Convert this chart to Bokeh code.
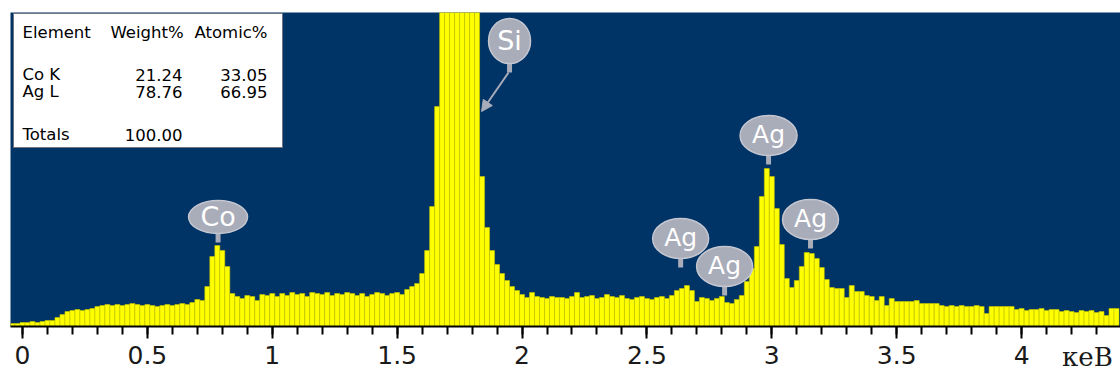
import numpy as np
from bokeh.plotting import figure
from bokeh.models import Range1d, FixedTicker, ColumnDataSource, Arrow, NormalHead
from bokeh.core.properties import value
from bokeh.embed import file_html
from bokeh.resources import INLINE

# ---------------- data ----------------
e_start = -0.04    # keV, centre of first channel
bin_width = 0.02   # keV per channel
counts = [
    3, 3, 4, 4, 5, 4,
    5, 6, 6,
    9, 12, 15,
    16, 17, 16, 17, 18,
    20, 21, 22, 21, 22, 21, 22, 23, 22, 21, 22, 21, 20, 21, 22, 21, 22, 23, 22,
    24, 27, 26,
    40, 70, 81, 76, 60, 33,
    30, 28, 31, 30, 26, 32, 31, 33, 30,
    33, 31, 34, 32, 33, 30, 34, 33, 32, 34, 31, 33, 32, 34, 33, 31, 33, 30, 32, 34, 33, 31, 33, 34, 32,
    37, 40, 43, 53, 76, 120, 220,
    340, 450, 560, 600, 580, 480, 380, 330,
    150, 99, 76, 62, 53, 46, 40, 36, 32, 29, 34, 30, 29, 28, 30, 29,
    29, 28, 30, 34,
    29, 30, 31, 28, 29, 32, 30, 29, 31, 28, 27, 29, 30, 28, 27, 29, 30, 28, 31,
    36, 38, 41, 36,
    25, 29, 28, 26, 28, 30, 24, 23, 27,
    31, 45, 58, 80, 130, 158, 150, 118, 82, 48, 39, 46, 60, 74, 73, 68, 59, 47, 39, 38,
    38, 29, 41, 35, 35, 31, 30, 26, 30, 21, 28,
    25, 25, 25, 25, 26, 23, 23, 23, 23,
    21, 20, 21, 20, 21, 20, 20, 21, 20,
    13, 20, 20, 20, 20, 20,
    17, 18, 16, 17, 17, 18, 16, 17, 17,
    15, 16, 15, 14, 16, 15, 16, 14, 15,
    11, 18, 18,
]
energy = e_start + bin_width * np.arange(len(counts))

tick_values = [0, 0.5, 1, 1.5, 2, 2.5, 3, 3.5, 4]
tick_labels = ["0", "0.5", "1", "1.5", "2", "2.5", "3", "3.5", "4"]
x_unit = "кеВ"

table_header = ["Element", "Weight%", "Atomic%"]
table_elements = ["Co K", "Ag L"]
table_weight = ["21.24", "78.76"]
table_atomic = ["33.05", "66.95"]
total_label = "Totals"
total_weight = "100.00"

peak_names = ["Co", "Si", "Ag", "Ag", "Ag", "Ag"]
peak_label_energy = [0.783, 1.950, 2.635, 2.811, 2.987, 3.155]

# ---------------- layout / style ----------------
label_y = [109.5, 285.5, 88, 60, 191, 107]
ell_w = [59, 42, 56, 56, 57, 56]
ell_h = [33, 45, 40, 40, 40, 40]
label_font = ["27px", "27px", "25px", "25px", "25px", "25px"]
stem_len = 9
unit_pad = "\u00a0" * 8   # keeps the end-anchored caption inside the picture

NAVY = "#003366"
BUBBLE = "#a9acb9"

p = figure(frame_width=1110, frame_height=314,
           x_range=Range1d(-0.048, 4.396), y_range=Range1d(0, 314),
           output_backend="svg", toolbar_location=None,
           y_axis_location=None,
           min_border_left=10, min_border_right=0, min_border_top=12, min_border_bottom=52)
p.background_fill_color = NAVY
p.border_fill_color = "white"
p.outline_line_color = None
p.grid.visible = False

src = ColumnDataSource(dict(energy=energy, counts=counts))
p.vbar(x="energy", top="counts", bottom=0, width=bin_width, source=src,
       fill_color="#ffff00", line_color="#c2c200", line_width=0.6)

# x axis
ax = p.xaxis[0]
ax.ticker = FixedTicker(ticks=tick_values,
                        minor_ticks=[round(0.1 * i, 1) for i in range(0, 44)])
ax.major_label_overrides = {v: l for v, l in zip(tick_values, tick_labels)}
ax.axis_line_color = "black"
ax.axis_line_width = 2
ax.major_tick_line_color = "black"
ax.major_tick_line_width = 2
ax.major_tick_in = 0
ax.major_tick_out = 12
ax.minor_tick_line_color = "black"
ax.minor_tick_line_width = 2
ax.minor_tick_in = 0
ax.minor_tick_out = 8
ax.major_label_text_font = "DejaVu Sans"
ax.major_label_text_font_size = "25px"
ax.major_label_text_color = "#1a1a1a"
ax.major_label_standoff = 7
ax.axis_label = x_unit + unit_pad
ax.axis_label_text_font = "DejaVu Serif"
ax.axis_label_text_font_style = "normal"
ax.axis_label_text_font_size = "26px"
ax.axis_label_text_color = "#1a1a1a"
ax.axis_label_standoff = -25
ax.axis_label_align = "end"

# results table
p.quad(left=[-0.036], right=[1.041], bottom=[179], top=[313],
       fill_color="white", line_color="#6f7480", line_width=1)
tfont = value("DejaVu Sans")
tsize = value("16.5px")
p.text(x=[0.0], y=[294], text=[table_header[0]], text_align="left", text_baseline="middle",
       text_font=tfont, text_font_size=tsize, text_color="black")
p.text(x=[0.645, 0.981], y=[294, 294], text=table_header[1:], text_align="right",
       text_baseline="middle", text_font=tfont, text_font_size=tsize, text_color="black")
row_y = [252, 235]
p.text(x=[0.0] * len(table_elements), y=row_y, text=table_elements, text_align="left",
       text_baseline="middle", text_font=tfont, text_font_size=tsize, text_color="black")
p.text(x=[0.641] * len(table_weight), y=row_y, text=table_weight, text_align="right",
       text_baseline="middle", text_font=tfont, text_font_size=tsize, text_color="black")
p.text(x=[0.981] * len(table_atomic), y=row_y, text=table_atomic, text_align="right",
       text_baseline="middle", text_font=tfont, text_font_size=tsize, text_color="black")
p.text(x=[0.0], y=[192], text=[total_label], text_align="left", text_baseline="middle",
       text_font=tfont, text_font_size=tsize, text_color="black")
p.text(x=[0.641], y=[192], text=[total_weight], text_align="right", text_baseline="middle",
       text_font=tfont, text_font_size=tsize, text_color="black")

# peak labels
stem_top = [y - h / 2 for y, h in zip(label_y, ell_h)]
stem_bot = [t - stem_len for t in stem_top]
p.segment(x0=peak_label_energy, y0=stem_top, x1=peak_label_energy, y1=stem_bot,
          line_color=BUBBLE, line_width=5)
p.ellipse(x=peak_label_energy, y=label_y, width=ell_w, height=ell_h,
          width_units="screen", height_units="screen",
          fill_color=BUBBLE, line_color="#c4c6d0", line_width=1.5)
lab = ColumnDataSource(dict(x=peak_label_energy, y=[y + 1 for y in label_y],
                            t=peak_names, fs=label_font))
p.text(x="x", y="y", text="t", source=lab, text_align="center", text_baseline="middle",
       text_font=value("DejaVu Sans"), text_font_size="fs", text_color="white")

# Si arrow
si = 1
p.add_layout(Arrow(x_start=peak_label_energy[si] - 0.004, y_start=stem_bot[si],
                   x_end=1.838, y_end=215,
                   line_color=BUBBLE, line_width=2,
                   end=NormalHead(size=11, fill_color=BUBBLE, line_color=BUBBLE)))

open("out.html", "w").write(file_html(p, INLINE))
